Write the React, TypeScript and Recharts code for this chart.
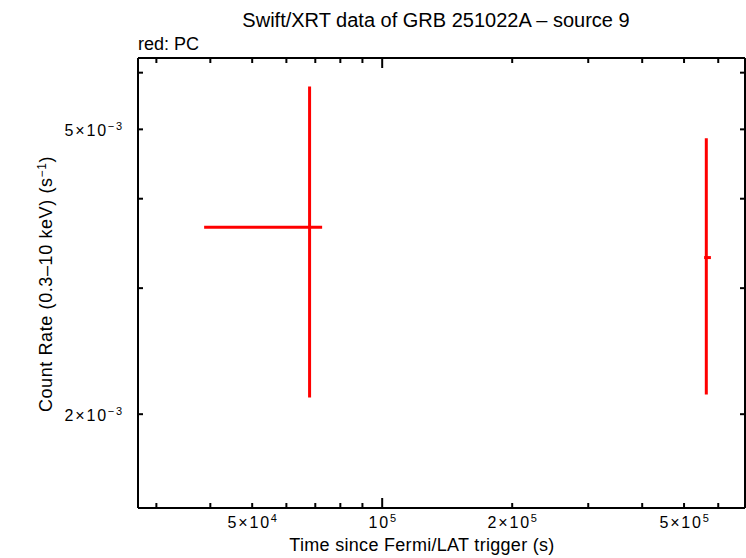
import React from 'react';
import { ScatterChart, Scatter, XAxis, YAxis, ErrorBar } from 'recharts';

const times = [67900, 563000];
const timeErrNeg = [29200, 6500];
const timeErrPos = [4700, 14000];
const rates = [0.00365, 0.00331];
const rateErrNeg = [0.00154, 0.00118];
const rateErrPos = [0.00209, 0.00155];

const xTicks = [30000, 40000, 50000, 60000, 70000, 80000, 90000, 100000, 200000, 300000, 400000, 500000, 600000];
const xLabels: Record<number, [string, string]> = {
  50000: ['5×10', '4'],
  100000: ['10', '5'],
  200000: ['2×10', '5'],
  500000: ['5×10', '5'],
};
const yTicks = [0.002, 0.003, 0.004, 0.005, 0.006];
const yLabels: Record<string, [string, string]> = {
  '0.002': ['2×10', '−3'],
  '0.005': ['5×10', '−3'],
};

const xDomain = [27200, 692000];
const yDomain = [0.001479, 0.00629];

const data = times.map((t, i) => ({
  t,
  rate: rates[i],
  xErr: [timeErrNeg[i], timeErrPos[i]],
  yErr: [rateErrNeg[i], rateErrPos[i]],
}));

const FONT = '"Liberation Sans", Arial, Helvetica, sans-serif';

const isDecade = (v: number) => Math.abs(Math.log10(v) - Math.round(Math.log10(v))) < 1e-9;

const BottomTick = (props: any) => {
  const { x, y, payload } = props;
  const v = payload.value;
  const len = isDecade(v) ? 10 : 5;
  const lab = xLabels[v];
  return (
    <g>
      <line x1={x} x2={x} y1={y} y2={y - len} stroke="#000" strokeWidth={2} />
      {lab && (
        <text x={x + 1} y={y + 20} textAnchor="middle" fontFamily={FONT} fontSize={16} letterSpacing={1.8} fill="#000">
          <tspan>{lab[0]}</tspan>
          <tspan fontSize={11} dy={-6}>{lab[1]}</tspan>
        </text>
      )}
    </g>
  );
};

const TopTick = (props: any) => {
  const { x, y, payload } = props;
  const v = payload.value;
  const len = isDecade(v) ? 10 : 5;
  return <line x1={x} x2={x} y1={y} y2={y + len} stroke="#000" strokeWidth={2} />;
};

const LeftTick = (props: any) => {
  const { x, y, payload } = props;
  const v = payload.value;
  const lab = yLabels[String(v)];
  return (
    <g>
      <line x1={x} x2={x + 5} y1={y} y2={y} stroke="#000" strokeWidth={2} />
      {lab && (
        <text x={x - 14} y={y + 7} textAnchor="end" fontFamily={FONT} fontSize={16} letterSpacing={1.8} fill="#000">
          <tspan>{lab[0]}</tspan>
          <tspan fontSize={11} dy={-6}>{lab[1]}</tspan>
        </text>
      )}
    </g>
  );
};

const RightTick = (props: any) => {
  const { x, y } = props;
  return <line x1={x} x2={x - 5} y1={y} y2={y} stroke="#000" strokeWidth={2} />;
};

const NoShape = () => <g />;

export default function App() {
  return (
    <div style={{ position: 'absolute', left: 0, top: 0, width: 746, height: 558, background: '#fff' }}>
      <ScatterChart width={746} height={558} margin={{ top: 57, right: 0, bottom: 0, left: 0 }}>
        <XAxis
          xAxisId={0}
          dataKey="t"
          type="number"
          scale="log"
          domain={xDomain}
          allowDataOverflow
          ticks={xTicks}
          interval={0}
          height={50}
          tickSize={0}
          tickMargin={0}
          tickLine={false}
          tick={<BottomTick />}
          axisLine={{ stroke: '#000', strokeWidth: 2 }}
        />
        <XAxis
          xAxisId="top"
          orientation="top"
          dataKey="t"
          type="number"
          scale="log"
          domain={xDomain}
          allowDataOverflow
          ticks={xTicks}
          interval={0}
          height={1}
          tickSize={0}
          tickMargin={0}
          tickLine={false}
          tick={<TopTick />}
          axisLine={{ stroke: '#000', strokeWidth: 2 }}
        />
        <YAxis
          yAxisId={0}
          dataKey="rate"
          type="number"
          scale="log"
          domain={yDomain}
          allowDataOverflow
          ticks={yTicks}
          interval={0}
          width={138}
          tickSize={0}
          tickMargin={0}
          tickLine={false}
          tick={<LeftTick />}
          axisLine={{ stroke: '#000', strokeWidth: 2 }}
        />
        <YAxis
          yAxisId="right"
          orientation="right"
          dataKey="rate"
          type="number"
          scale="log"
          domain={yDomain}
          allowDataOverflow
          ticks={yTicks}
          interval={0}
          width={1}
          tickSize={0}
          tickMargin={0}
          tickLine={false}
          tick={<RightTick />}
          axisLine={{ stroke: '#000', strokeWidth: 2 }}
        />
        <Scatter data={data} xAxisId={0} yAxisId={0} fill="red" shape={<NoShape />} isAnimationActive={false}>
          <ErrorBar dataKey="xErr" direction="x" width={0} stroke="red" strokeWidth={3} isAnimationActive={false} />
          <ErrorBar dataKey="yErr" direction="y" width={0} stroke="red" strokeWidth={3} isAnimationActive={false} />
        </Scatter>
      </ScatterChart>
      <svg width={746} height={558} style={{ position: 'absolute', left: 0, top: 0, pointerEvents: 'none' }} fontFamily={FONT} fill="#000">
        <text x={436} y={27} textAnchor="middle" fontSize={20}>Swift/XRT data of GRB 251022A – source 9</text>
        <text x={138} y={50} fontSize={18}>red: PC</text>
        <text x={422} y={551} textAnchor="middle" fontSize={18} letterSpacing={0.3}>Time since Fermi/LAT trigger (s)</text>
        <text x={52} y={284} textAnchor="middle" fontSize={18} letterSpacing={0.6} transform="rotate(-90 52 284)">
          Count Rate (0.3–10 keV) (s<tspan fontSize={12} dy={-6}>−1</tspan><tspan dy={6}>)</tspan>
        </text>
      </svg>
    </div>
  );
}
